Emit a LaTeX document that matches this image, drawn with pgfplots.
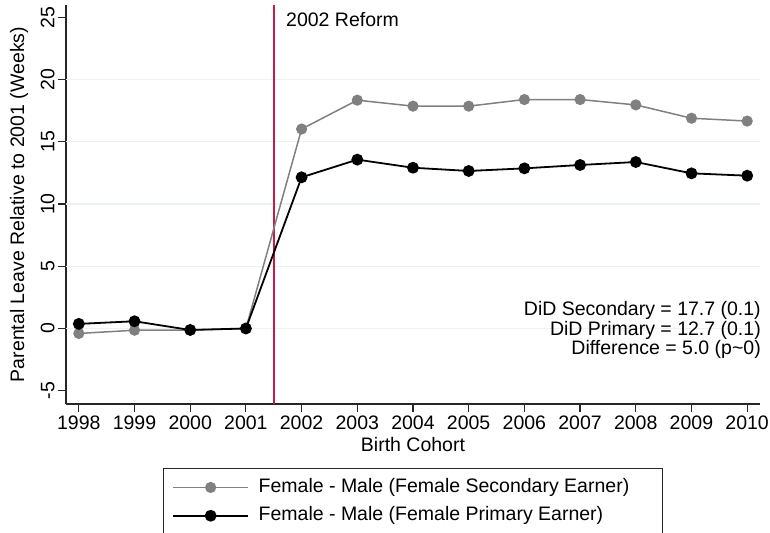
\documentclass[border=0pt]{standalone}
\usepackage{fontspec}
\setmainfont{Liberation Sans}
\usepackage{pgfplots}
\pgfplotsset{compat=1.18}
\definecolor{gridc}{RGB}{234,242,243}
\definecolor{reform}{RGB}{200,25,70}
\definecolor{secgray}{RGB}{128,128,128}

\begin{document}
\begin{tikzpicture}[font=\fontsize{19.5bp}{23bp}\selectfont]
\begin{axis}[
    at={(66bp,129bp)}, anchor=south west,
    scale only axis, width=694bp, height=399bp,
    xmin=1997.77, xmax=2010.23, ymin=-6.07, ymax=26,
    axis x line*=bottom, axis y line*=left,
    axis line style={black!85, line width=1.2bp},
    tick align=outside, major tick length=8bp,
    tick style={black!85, line width=1.2bp},
    xtick={1998,...,2010}, ytick={-5,0,...,25},
    extra y ticks={0,5,10,15,20}, extra y tick labels={},
    extra y tick style={grid=major, major tick length=0pt, grid style={gridc, line width=1.2bp}},
    /pgf/number format/assume math mode=true,
    /pgf/number format/1000 sep={},
    yticklabel style={rotate=90, anchor=south},
    xlabel={Birth Cohort},
    ylabel={Parental Leave Relative to 2001 (Weeks)},
    xlabel style={at={(axis description cs:0.5,-0.1028)}, anchor=center},
    ylabel style={at={(axis description cs:-0.0677,0.5)}, anchor=center},
    legend style={at={(0.1393,-0.1604)}, anchor=north west,
        draw=black!85, line width=1.2bp, inner xsep=9bp, inner ysep=9bp,
        nodes={inner sep=0pt, text height=14.5bp, text depth=13.8bp},
        column sep=9.6bp, row sep=0pt},
    legend cell align=left,
    legend image code/.code={\draw[yshift=4.3bp, mark repeat=2,mark phase=2] plot coordinates {(0bp,0bp)(37.5bp,0bp)(75bp,0bp)};},
]
% reform line
\addplot[reform, line width=2bp, forget plot] coordinates {(2001.5,-6.07) (2001.5,26)};

\addplot[secgray, line width=1.5bp, mark=*, mark size=4.8bp, mark options={fill=secgray}] coordinates {
    (1998,-0.40) (1999,-0.14) (2000,-0.12) (2001,0)
    (2002,16.03) (2003,18.35) (2004,17.87) (2005,17.87) (2006,18.40)
    (2007,18.40) (2008,17.97) (2009,16.90) (2010,16.67)
};
\addlegendentry{Female - Male (Female Secondary Earner)\hspace*{24bp}}

\addplot[black, line width=1.8bp, mark=*, mark size=5bp, mark options={fill=black}] coordinates {
    (1998,0.37) (1999,0.58) (2000,-0.12) (2001,0)
    (2002,12.15) (2003,13.57) (2004,12.92) (2005,12.66) (2006,12.87)
    (2007,13.14) (2008,13.38) (2009,12.47) (2010,12.28)
};
\addlegendentry{Female - Male (Female Primary Earner)}

\node[anchor=west, inner sep=0pt] at (axis cs:2001.72,24.86) {2002 Reform};
\node[anchor=east, align=right, inner sep=0pt, font=\fontsize{19.5bp}{19.5bp}\selectfont]
    at (rel axis cs:1.0014,0.1855)
    {DiD Secondary = 17.7 (0.1)\\DiD Primary = 12.7 (0.1)\\Difference = 5.0 (p\textasciitilde0)};
\end{axis}
\pgfresetboundingbox
\path[use as bounding box] (0,0) rectangle (770bp,533bp);
\end{tikzpicture}
\end{document}
